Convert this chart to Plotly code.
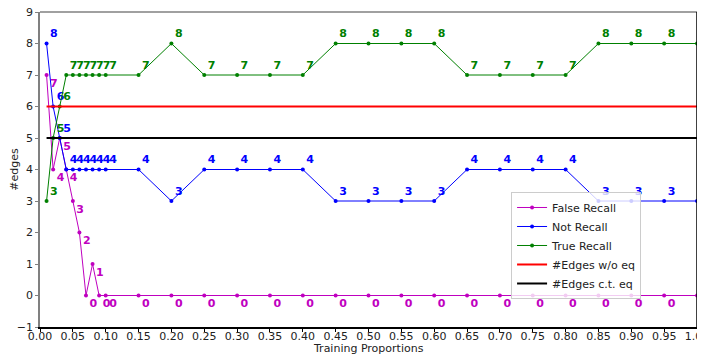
import plotly.graph_objects as go

x_vals = [0.01, 0.02, 0.03, 0.04, 0.05, 0.06, 0.07, 0.08, 0.09, 0.10,
          0.15, 0.20, 0.25, 0.30, 0.35, 0.40, 0.45, 0.50, 0.55, 0.60,
          0.65, 0.70, 0.75, 0.80, 0.85, 0.90, 0.95, 1.00]
false_recall = [7, 4, 5, 4, 3, 2, 0, 1, 0, 0,
                0, 0, 0, 0, 0, 0, 0, 0, 0, 0,
                0, 0, 0, 0, 0, 0, 0, 0]
not_recall = [8, 6, 5, 4, 4, 4, 4, 4, 4, 4,
              4, 3, 4, 4, 4, 4, 3, 3, 3, 3,
              4, 4, 4, 4, 3, 3, 3, 3]
true_recall = [3, 5, 6, 7, 7, 7, 7, 7, 7, 7,
               7, 8, 7, 7, 7, 7, 8, 8, 8, 8,
               7, 7, 7, 7, 8, 8, 8, 8]
edges_wo_eq = 6
edges_ct_eq = 5

x_ticks = [i * 0.05 for i in range(21)]
y_ticks = list(range(-1, 10))

fig = go.Figure()

def series(y, name, color, pos):
    fig.add_trace(go.Scatter(
        x=x_vals, y=y, name=name, mode="lines+markers+text",
        line=dict(color=color, width=1),
        marker=dict(color=color, size=4),
        text=[str(v) for v in y], textposition=pos,
        textfont=dict(color=color, size=11, family="DejaVu Sans", weight="bold"),
        cliponaxis=False,
    ))

series(false_recall, "False Recall", "#bf00bf", "bottom right")
series(not_recall, "Not Recall", "#0000ff", "top right")
series(true_recall, "True Recall", "#008000", "top right")

fig.add_trace(go.Scatter(x=[x_vals[0], x_vals[-1]], y=[edges_wo_eq, edges_wo_eq],
                         mode="lines", name="#Edges w/o eq",
                         line=dict(color="#ff0000", width=2)))
fig.add_trace(go.Scatter(x=[x_vals[0], x_vals[-1]], y=[edges_ct_eq, edges_ct_eq],
                         mode="lines", name="#Edges c.t. eq",
                         line=dict(color="#000000", width=2)))

# page has an 8px body margin; figure is sized so the plot lands where the reference has it
fig.update_layout(
    width=697, height=348,
    margin=dict(l=32, r=8, t=4, b=29),
    paper_bgcolor="white", plot_bgcolor="white",
    font=dict(family="DejaVu Sans", size=11, color="#222"),
    legend=dict(x=0.717, y=0.4286, xanchor="left", yanchor="top",
                bgcolor="rgba(255,255,255,0.8)", bordercolor="#cccccc", borderwidth=1,
                font=dict(size=11, color="#222"), tracegroupgap=0),
    xaxis=dict(range=[0, 1.0], tickvals=x_ticks,
               ticktext=[f"{t:.2f}" for t in x_ticks],
               automargin=False, ticklabeloverflow="allow",
               ticklabelstandoff=-5,
               showgrid=False, zeroline=False, showline=True,
               linecolor="black", linewidth=1.5,
               ticks="outside", ticklen=3, tickcolor="black"),
    yaxis=dict(range=[-1, 9], tickvals=y_ticks,
               automargin=False, ticklabeloverflow="allow",
               showgrid=False, zeroline=False, showline=True,
               linecolor="#808080", linewidth=1.5,
               ticks="outside", ticklen=3, tickcolor="#808080",
               title=dict(text="#edges", standoff=4, font=dict(size=11))),
    annotations=[
        dict(text="Training Proportions", xref="paper", yref="paper",
             x=0.5, y=0, xanchor="center", yanchor="top", yshift=-13,
             showarrow=False, font=dict(size=11, color="#222")),
    ],
    shapes=[
        dict(type="line", xref="paper", yref="paper", x0=0, x1=1, y0=1, y1=1,
             line=dict(color="#808080", width=1.5)),
        dict(type="line", xref="paper", yref="paper", x0=1, x1=1, y0=0, y1=1,
             line=dict(color="black", width=1.5)),
    ],
)

fig.write_html("out.html")
